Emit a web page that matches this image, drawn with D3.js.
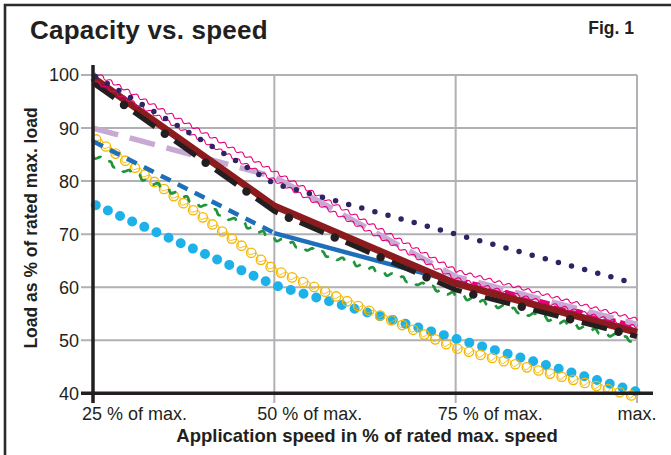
<!DOCTYPE html>
<html>
<head>
<meta charset="utf-8">
<script src="https://cdn.jsdelivr.net/npm/d3@7/dist/d3.min.js"></script>
<style>
  html, body { margin: 0; padding: 0; background: #fff; }
  svg { display: block; }
  text { font-family: "Liberation Sans", Arial, Helvetica, sans-serif; fill: #231f20; }
</style>
</head>
<body>
<svg id="chart" width="671" height="455"></svg>
<script>
// ---------------- DATA ----------------
const xCategories = ["25 % of max.", "50 % of max.", "75 % of max.", "max."];
const xValues = [25, 50, 75, 100];
const yTicks = [40, 50, 60, 70, 80, 90, 100];

const cyanDots      = [75.7, 60.4, 50.3, 40.3];
const yellowRings   = [88.3, 63.3, 48.5, 39.3];
const greenTilde    = [84.8, 69.2, 58.5, 49.8];
const blueDashed    = [87.5, 70.2, null, null];
const blueSolid     = [null, 70.2, 61.0, null];
const blueThin      = [null, null, 61.0, 52.0];
const lavenderDash  = [90.0, 80.8, 62.0, 53.0];
const magentaDash   = [null, null, 61.5, 52.5];
const maroonSolid   = [99.5, 75.3, 60.7, 51.5];
const blackDashDot  = [98.5, 74.3, 59.5, 50.7];
const pinkWavy      = [99.8, 81.0, 62.4, 53.2];
const navyDotted    = [100.0, 79.5, 70.0, 60.6];

// ---------------- LAYOUT ----------------
const svg = d3.select("#chart");
const x = d3.scaleLinear().domain([25, 100]).range([93, 637]);
const y = d3.scaleLinear().domain([40, 100]).range([393.3, 75]);
const GRID = "#b1b1b5";

// frame
svg.append("path").attr("d", "M5,455 V5 H671")
  .attr("fill", "none").attr("stroke", "#2b2b2b").attr("stroke-width", 2.6);

// title
svg.append("text").attr("x", 30).attr("y", 39)
  .attr("font-size", 26).attr("font-weight", "bold").attr("letter-spacing", 0.2)
  .text("Capacity vs. speed");
svg.append("text").attr("x", 634).attr("y", 34).attr("text-anchor", "end")
  .attr("font-size", 17.5).attr("font-weight", "bold").text("Fig. 1");

// grid
const gGrid = svg.append("g");
yTicks.filter(v => v > 40).forEach(v => {
  gGrid.append("line").attr("x1", 81).attr("x2", x(100))
    .attr("y1", y(v)).attr("y2", y(v))
    .attr("stroke", GRID).attr("stroke-width", 2);
});
xValues.filter(v => v > 25).forEach(v => {
  gGrid.append("line").attr("x1", x(v)).attr("x2", x(v))
    .attr("y1", y(100)).attr("y2", 403)
    .attr("stroke", GRID).attr("stroke-width", 2);
});

// y tick labels
yTicks.forEach(v => {
  svg.append("text").attr("x", 79).attr("y", y(v)).attr("dy", "0.36em")
    .attr("text-anchor", "end").attr("font-size", 18).text(v);
});
// x tick labels
const xLabelDx = [-11, -17, -18, 0];
xCategories.forEach((c, i) => {
  svg.append("text").attr("x", x(xValues[i]) + xLabelDx[i]).attr("y", 420)
    .attr("text-anchor", i === 3 ? "middle" : "start")
    .attr("font-size", 18).text(c);
});

// axis titles
svg.append("text").attr("x", 367).attr("y", 442).attr("text-anchor", "middle")
  .attr("font-size", 18.5).attr("font-weight", "bold")
  .text("Application speed in % of rated max. speed");
svg.append("text").attr("transform", "translate(37,228) rotate(-90)")
  .attr("text-anchor", "middle").attr("font-size", 17.5).attr("font-weight", "bold")
  .text("Load as % of rated max. load");

// ---------------- HELPERS ----------------
function pts(arr) {
  const out = [];
  arr.forEach((v, i) => { if (v !== null) out.push([x(xValues[i]), y(v)]); });
  return out;
}
const line = d3.line();
function wavy(p, offset, amp, period, step = 0.5) {
  const out = [];
  let s0 = 0;
  for (let i = 0; i < p.length - 1; i++) {
    const [x0, y0] = p[i], [x1, y1] = p[i + 1];
    const dx = x1 - x0, dy = y1 - y0, len = Math.hypot(dx, dy);
    const nx = -dy / len, ny = dx / len;
    for (let t = 0; t < len; t += step) {
      const s = s0 + t;
      const w = offset + amp * Math.sin(2 * Math.PI * s / period);
      out.push([x0 + dx * t / len + nx * w, y0 + dy * t / len + ny * w]);
    }
    s0 += len;
  }
  const last = p[p.length - 1];
  const w = offset + amp * Math.sin(2 * Math.PI * s0 / period);
  const [xa, ya] = p[p.length - 2];
  const L = Math.hypot(last[0] - xa, last[1] - ya);
  out.push([last[0] + (-(last[1] - ya) / L) * w, last[1] + ((last[0] - xa) / L) * w]);
  return line(out);
}
const gLines = svg.append("g").attr("fill", "none");

// cyan dots
gLines.append("path").attr("d", line(pts(cyanDots)))
  .attr("stroke", "#1db1ea").attr("stroke-width", 10)
  .attr("stroke-linecap", "round").attr("stroke-dasharray", "0 13.3")
  .attr("stroke-dashoffset", -3);

// yellow rings + thin wavy line
const yp = pts(yellowRings);
gLines.append("path").attr("d", wavy(yp, 0, 2.8, 12))
  .attr("stroke", "#f5b700").attr("stroke-width", 1);
const hidden = gLines.append("path").attr("d", line(yp)).attr("stroke", "none");
const totalY = hidden.node().getTotalLength();
for (let s = 4; s <= totalY - 2; s += 12) {
  const pt = hidden.node().getPointAtLength(s);
  gLines.append("circle").attr("cx", pt.x).attr("cy", pt.y).attr("r", 4.7)
    .attr("fill", "none").attr("stroke", "#f5b700").attr("stroke-width", 1.3);
}

// green tilde
gLines.append("path").attr("d", wavy(pts(greenTilde), 0, 1.9, 10.5))
  .attr("stroke", "#1f943b").attr("stroke-width", 2.7)
  .attr("stroke-dasharray", "10.5 10.5");

// blue
gLines.append("path").attr("d", line(pts(blueDashed)))
  .attr("stroke", "#1c6fb8").attr("stroke-width", 4.5).attr("stroke-dasharray", "11 8");
gLines.append("path").attr("d", line(pts(blueSolid)))
  .attr("stroke", "#1c6fb8").attr("stroke-width", 4.5);
gLines.append("path").attr("d", line(pts(blueThin)))
  .attr("stroke", "#1c6fb8").attr("stroke-width", 2.2);

// magenta dash
gLines.append("path").attr("d", line(pts(magentaDash)))
  .attr("stroke", "#e3007b").attr("stroke-width", 5).attr("stroke-dasharray", "12 5");

// lavender dash
gLines.append("path").attr("d", line(pts(lavenderDash)))
  .attr("stroke", "#c8a9d3").attr("stroke-width", 5.5).attr("stroke-dasharray", "26 12");

// maroon
gLines.append("path").attr("d", line(pts(maroonSolid)))
  .attr("stroke", "#8b1b1d").attr("stroke-width", 7);

// black dash-dot
const bp = line(pts(blackDashDot));
gLines.append("path").attr("d", bp)
  .attr("stroke", "#231f20").attr("stroke-width", 5).attr("stroke-dasharray", "26 24");
gLines.append("path").attr("d", bp)
  .attr("stroke", "#231f20").attr("stroke-width", 8.5).attr("stroke-linecap", "round")
  .attr("stroke-dasharray", "0 50").attr("stroke-dashoffset", -38);

// pink double wavy
const pp = pts(pinkWavy);
[-3.8, 3.8].forEach(o => {
  gLines.append("path").attr("d", wavy(pp, o, 1.4, 10))
    .attr("stroke", "#e4007c").attr("stroke-width", 1.1);
});

// navy dotted
gLines.append("path").attr("d", line(pts(navyDotted)))
  .attr("stroke", "#2d2463").attr("stroke-width", 5.5)
  .attr("stroke-linecap", "round").attr("stroke-dasharray", "0 13.6")
  .attr("stroke-dashoffset", -3);

// axes (on top)
svg.append("line").attr("x1", x(25)).attr("x2", x(25)).attr("y1", 65).attr("y2", 403)
  .attr("stroke", "#231f20").attr("stroke-width", 3.5);
svg.append("line").attr("x1", 81).attr("x2", 653).attr("y1", y(40)).attr("y2", y(40))
  .attr("stroke", "#231f20").attr("stroke-width", 3.5);
</script>
</body>
</html>
